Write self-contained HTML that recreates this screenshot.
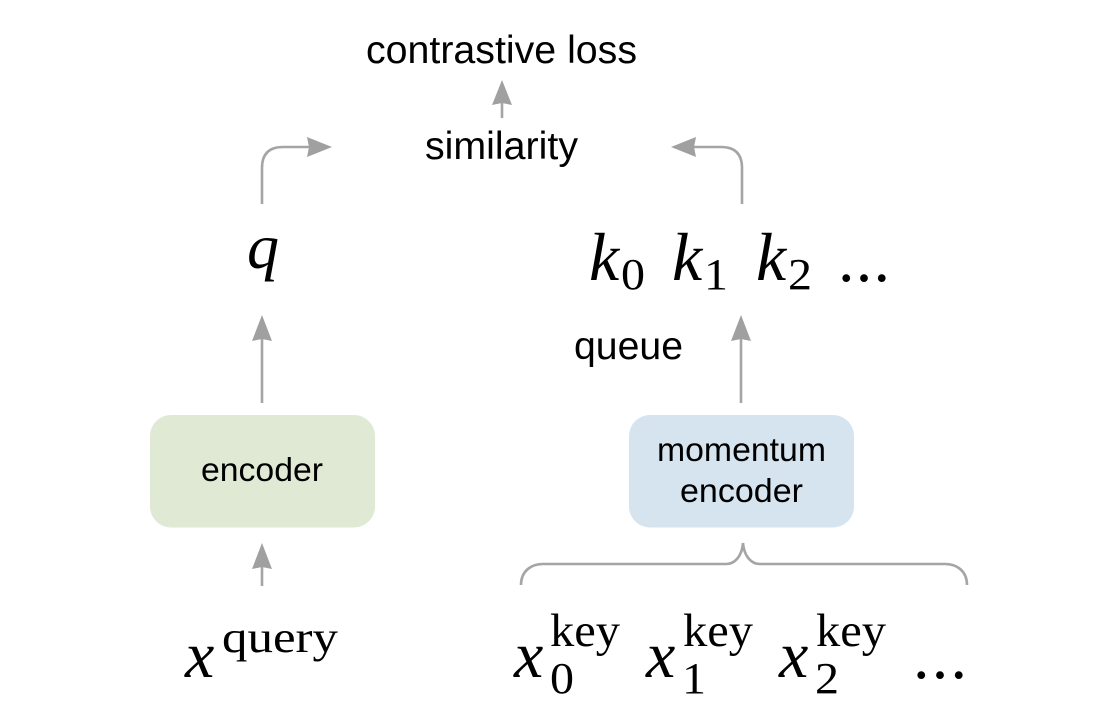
<!DOCTYPE html>
<html><head><meta charset="utf-8"><style>
html,body{margin:0;padding:0;background:#fff}
svg{display:block}
.s{font-family:"Liberation Sans",sans-serif;fill:#000}
.m{font-family:"Liberation Serif",serif;font-style:italic;fill:#000}
.r{font-family:"Liberation Serif",serif;fill:#000}
.l{fill:none;stroke:#a5a5a5;stroke-width:2.6}
.a{fill:#a0a0a0}
</style></head><body>
<svg width="1112" height="728" viewBox="0 0 1112 728" xmlns="http://www.w3.org/2000/svg">
<rect x="150" y="415" width="225" height="112.500" rx="21" fill="#dfe9d3"/>
<rect x="629" y="415" width="225" height="112.500" rx="21" fill="#d5e4ef"/>
<path class="l" d="M262 204V168Q262 147 283 147H310"/>
<polygon class="a" points="332,147 307,137 309,147 307,157"/>
<path class="l" d="M742 204V168Q742 147 721 147H694"/>
<polygon class="a" points="671,147 696,137 694,147 696,157"/>
<path class="l" d="M502 118V98"/>
<polygon class="a" points="502,80 492,105 502,103 512,105"/>
<path class="l" d="M262 403V335"/>
<polygon class="a" points="262,315 252,341 262,339 272,341"/>
<path class="l" d="M741 403V335"/>
<polygon class="a" points="741,315 731,341 741,339 751,341"/>
<path class="l" d="M262 586V562"/>
<polygon class="a" points="262,543 252,569 262,567 272,569"/>
<path class="l" d="M521 585C521 572 530 564 543 564H726C735 564 742 556 743 543C744 556 751 564 760 564H945C958 564 967 572 967 585"/>
<text class="s" x="366" y="63" font-size="39" textLength="271" lengthAdjust="spacingAndGlyphs">contrastive loss</text>
<text class="s" x="425" y="159" font-size="39" textLength="153" lengthAdjust="spacingAndGlyphs">similarity</text>
<text class="s" x="574" y="359" font-size="39" textLength="109" lengthAdjust="spacingAndGlyphs">queue</text>
<text class="s" x="201" y="481" font-size="33" textLength="122" lengthAdjust="spacingAndGlyphs">encoder</text>
<text class="s" x="657" y="461" font-size="33" textLength="169" lengthAdjust="spacingAndGlyphs">momentum</text>
<text class="s" x="680" y="502" font-size="33" textLength="123" lengthAdjust="spacingAndGlyphs">encoder</text>
<text class="m" x="247" y="268" font-size="64">q</text>
<text class="m" x="589" y="280" font-size="68">k</text><text class="r" x="621" y="289" font-size="44" textLength="24" lengthAdjust="spacingAndGlyphs">0</text>
<text class="m" x="672" y="280" font-size="68">k</text><text class="r" x="704" y="289" font-size="44" textLength="24" lengthAdjust="spacingAndGlyphs">1</text>
<text class="m" x="756" y="280" font-size="68">k</text><text class="r" x="788" y="289" font-size="44" textLength="24" lengthAdjust="spacingAndGlyphs">2</text>
<text class="r" x="838" y="281" font-size="66" textLength="52">...</text>
<text class="m" x="185" y="677" font-size="66">x</text><text class="r" x="222" y="652" font-size="44" textLength="116" lengthAdjust="spacingAndGlyphs">query</text>
<text class="m" x="514" y="677" font-size="66">x</text><text class="r" x="550" y="646" font-size="47" textLength="70" lengthAdjust="spacingAndGlyphs">key</text><text class="r" x="550" y="693" font-size="44" textLength="24" lengthAdjust="spacingAndGlyphs">0</text>
<text class="m" x="646" y="677" font-size="66">x</text><text class="r" x="683" y="646" font-size="47" textLength="70" lengthAdjust="spacingAndGlyphs">key</text><text class="r" x="682" y="693" font-size="44" textLength="24" lengthAdjust="spacingAndGlyphs">1</text>
<text class="m" x="779" y="677" font-size="66">x</text><text class="r" x="816" y="646" font-size="47" textLength="70" lengthAdjust="spacingAndGlyphs">key</text><text class="r" x="815" y="693" font-size="44" textLength="24" lengthAdjust="spacingAndGlyphs">2</text>
<text class="r" x="913" y="678" font-size="66" textLength="54">...</text>
</svg>
</body></html>
